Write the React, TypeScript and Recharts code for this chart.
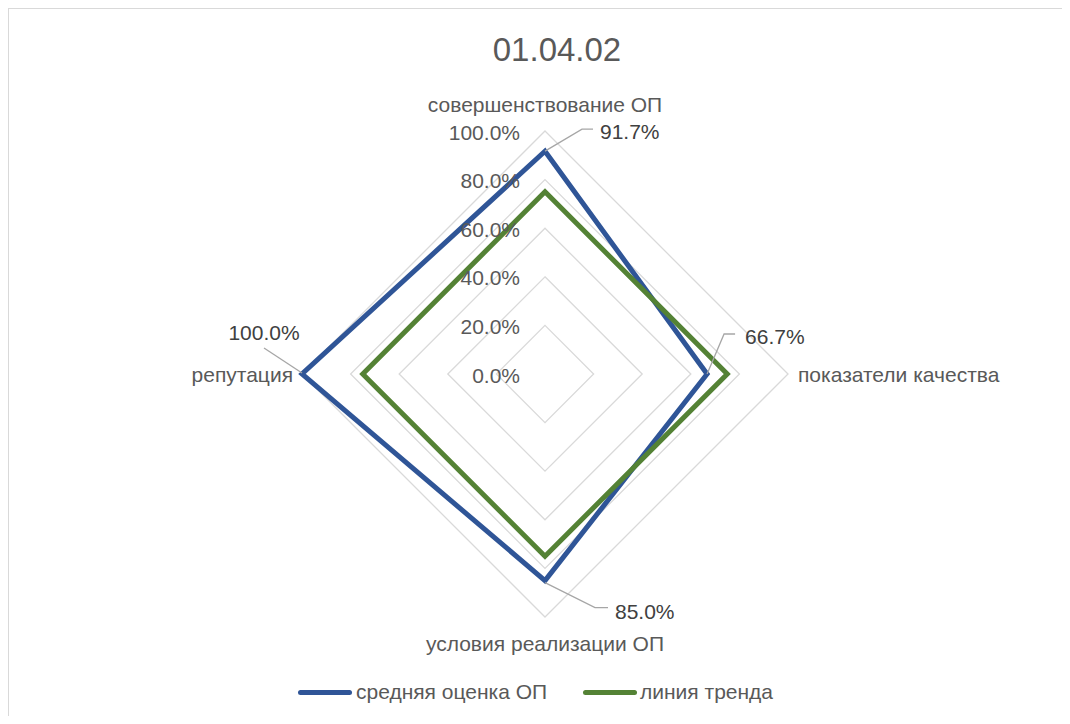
import React from 'react';
import { RadarChart, Radar, PolarGrid, PolarAngleAxis, PolarRadiusAxis, Legend } from 'recharts';

const categories = ['совершенствование ОП', 'показатели качества', 'условия реализации ОП', 'репутация'];
const avgScore = [0.917, 0.667, 0.85, 1.0];
const trendLine = [0.75, 0.75, 0.75, 0.75];
const radiusTicks = [0, 0.2, 0.4, 0.6, 0.8, 1];
const seriesNames = ['средняя оценка ОП', 'линия тренда'];
const title = '01.04.02';

const data = categories.map((c, i) => ({ category: c, avg: avgScore[i], trend: trendLine[i] }));

const FONT = '"Liberation Sans", Arial, sans-serif';
const BLUE = '#2F5597';
const GREEN = '#548235';
const TEXT = '#595959';
const fmt = (v: number) => (v * 100).toFixed(1) + '%';

const AngleTick = (props: any) => {
  const { x, y, payload, index } = props;
  let tx = x;
  let ty = y;
  let anchor: any = 'middle';
  if (index === 0) ty = y - 19;
  else if (index === 1) { tx = x + 2; anchor = 'start'; }
  else if (index === 2) ty = y + 18;
  else { tx = x - 1; anchor = 'end'; }
  return (
    <text x={tx} y={ty} textAnchor={anchor} dominantBaseline="central" fill={TEXT} fontSize={21} fontFamily={FONT}>
      {payload.value}
    </text>
  );
};

const RadiusTick = (props: any) => {
  const { x, y, payload } = props;
  return (
    <text x={x - 25} y={y + 1} textAnchor="end" dominantBaseline="central" fill={TEXT} fontSize={21} fontFamily={FONT}>
      {fmt(payload.value)}
    </text>
  );
};

const leaderGeom = [
  { pts: [[0, 0], [37, -22], [48, -22]], tx: 55, ty: -20, anchor: 'start' },
  { pts: [[0, 0], [17, -40], [28, -40]], tx: 38, ty: -38, anchor: 'start' },
  { pts: [[0, 2], [50, 27], [63, 27]], tx: 70, ty: 31, anchor: 'start' },
  { pts: [[-38, -26], [0, -1]], tx: -38, ty: -42, anchor: 'middle' },
];

const DataLabel = (props: any) => {
  const { cx, cy, index } = props;
  const g = leaderGeom[index];
  if (!g || cx == null) return <g key={`lbl-${index}`} />;
  const pts = g.pts.map((p) => `${cx + p[0]},${cy + p[1]}`).join(' ');
  return (
    <g key={`lbl-${index}`}>
      <polyline points={pts} fill="none" stroke="#A6A6A6" strokeWidth={1.3} />
      <text x={cx + g.tx} y={cy + g.ty} textAnchor={g.anchor as any} dominantBaseline="central" fill="#404040" fontSize={21} fontFamily={FONT}>
        {fmt(avgScore[index])}
      </text>
    </g>
  );
};

const LegendContent = () => (
  <div style={{ position: 'relative', width: 500, height: 24, fontFamily: FONT, fontSize: 21, color: TEXT }}>
    <div style={{ position: 'absolute', left: 0, top: 9.5, width: 54, height: 5, borderRadius: 3, background: BLUE }} />
    <div style={{ position: 'absolute', left: 58, top: 0, lineHeight: '24px', whiteSpace: 'nowrap' }}>{seriesNames[0]}</div>
    <div style={{ position: 'absolute', left: 285, top: 9.5, width: 54, height: 5, borderRadius: 3, background: GREEN }} />
    <div style={{ position: 'absolute', left: 342, top: 0, lineHeight: '24px', whiteSpace: 'nowrap' }}>{seriesNames[1]}</div>
  </div>
);

export default function App() {
  return (
    <div style={{ position: 'relative', width: 1054, height: 708, background: '#fff', overflow: 'hidden' }}>
      <div style={{ position: 'absolute', left: 0, top: 0, width: 1100, height: 800, borderLeft: '1px solid #D9D9D9', borderTop: '1px solid #D9D9D9', pointerEvents: 'none' }} />
      <div style={{ position: 'absolute', left: 349, top: 22, width: 400, textAlign: 'center', fontFamily: FONT, fontSize: 33, lineHeight: '40px', color: TEXT }}>
        {title}
      </div>
      <RadarChart width={1054} height={708} data={data} cx={537} cy={366} outerRadius={243} margin={{ top: 0, right: 0, bottom: 0, left: 0 }}>
        <PolarGrid gridType="polygon" radialLines={false} stroke="#D9D9D9" strokeWidth={1.3} />
        <PolarAngleAxis dataKey="category" tick={<AngleTick />} tickLine={false} axisLine={false} tickSize={0} />
        <PolarRadiusAxis angle={90} domain={[0, 1]} ticks={radiusTicks as any} tick={<RadiusTick />} axisLine={false} tickLine={false} />
        <Radar name={seriesNames[0]} dataKey="avg" stroke={BLUE} strokeWidth={5} strokeLinejoin="miter" fill="none" fillOpacity={0} dot={DataLabel} isAnimationActive={false} />
        <Radar name={seriesNames[1]} dataKey="trend" stroke={GREEN} strokeWidth={5} strokeLinejoin="miter" fill="none" fillOpacity={0} dot={false} isAnimationActive={false} />
        <Legend content={<LegendContent />} wrapperStyle={{ left: 290, top: 672, width: 500, height: 24 }} />
      </RadarChart>
    </div>
  );
}
